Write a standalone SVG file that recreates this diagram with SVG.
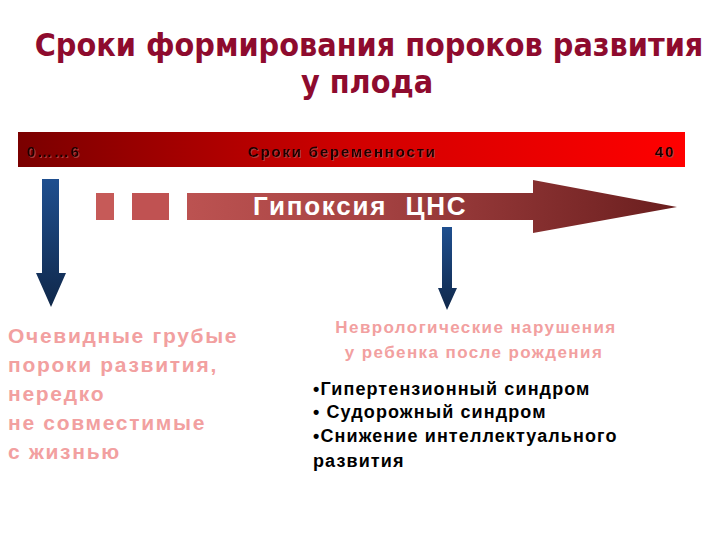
<svg xmlns="http://www.w3.org/2000/svg" width="720" height="540" viewBox="0 0 720 540">
<defs>
<linearGradient id="barG" x1="0" y1="0" x2="1" y2="0">
<stop offset="0" stop-color="#7A0000"/>
<stop offset="0.5" stop-color="#D00000"/>
<stop offset="1" stop-color="#FF0000"/>
</linearGradient>
<linearGradient id="hypG" x1="96" y1="0" x2="677" y2="0" gradientUnits="userSpaceOnUse">
<stop offset="0" stop-color="#C65A58"/>
<stop offset="0.45" stop-color="#A84444"/>
<stop offset="1" stop-color="#6A1E1E"/>
</linearGradient>
<linearGradient id="blueG" x1="0" y1="0" x2="0" y2="1">
<stop offset="0" stop-color="#1F4F8F"/>
<stop offset="1" stop-color="#10284A"/>
</linearGradient>
<filter id="sh" x="-5%" y="-20%" width="110%" height="140%">
<feDropShadow dx="1" dy="1" stdDeviation="0.4" flood-color="#B04040" flood-opacity="0.9"/>
</filter>
</defs>
<style>
.title{font-family:"DejaVu Sans Condensed","DejaVu Sans",sans-serif;font-weight:bold;font-size:32px;fill:#8E0B2E;text-anchor:middle}
.bar{font-family:"Liberation Sans",Arial,sans-serif;font-weight:bold;font-size:15px;letter-spacing:1.8px;fill:#1a0000;filter:url(#sh)}
.hyp{font-family:"Liberation Sans",Arial,sans-serif;font-weight:bold;font-size:26px;letter-spacing:1.8px;fill:#FFFFFF}
.pink{font-family:"Liberation Sans",Arial,sans-serif;font-weight:bold;fill:#F2A0A0}
.lp{font-size:21px;letter-spacing:1.7px}
.mp{font-size:17px;letter-spacing:1.4px}
.list{font-family:"Liberation Sans",Arial,sans-serif;font-weight:bold;font-size:18px;letter-spacing:1.1px;fill:#000000}
</style>
<rect width="720" height="540" fill="#FFFFFF"/>
<g id="title">
<text class="title" x="369" y="56">Сроки формирования пороков развития</text>
<text class="title" x="367" y="93">у плода</text>
</g>
<g id="timeline">
<rect x="18" y="132" width="667" height="35" fill="url(#barG)"/>
<text class="bar" x="27" y="157">0……6</text>
<text class="bar" x="248" y="157">Сроки беременности</text>
<text class="bar" x="655" y="157">40</text>
</g>
<g id="hypoxia">
<rect x="96" y="193" width="18" height="27" fill="#C65A58"/>
<rect x="132" y="193" width="37" height="27" fill="#C05252"/>
<polygon points="187,193 533,193 533,180 677,207 533,233 533,220 187,220" fill="url(#hypG)"/>
<text class="hyp" x="253" y="215" xml:space="preserve">Гипоксия  ЦНС</text>
</g>
<g id="connectors">
<polygon points="42,179 59,179 59,273 66,273 51,307 36,273 42,273" fill="url(#blueG)"/>
<polygon points="442,227 452,227 452,288 457,288 447,310 438,288 442,288" fill="url(#blueG)"/>
</g>
<g id="node-left">
<text class="pink lp" x="8" y="343">Очевидные грубые</text>
<text class="pink lp" x="8" y="372">пороки развития,</text>
<text class="pink lp" x="8" y="401">нередко</text>
<text class="pink lp" x="8" y="430">не совместимые</text>
<text class="pink lp" x="8" y="459">с жизнью</text>
</g>
<g id="node-right">
<text class="pink mp" x="476" y="333" text-anchor="middle">Неврологические нарушения</text>
<text class="pink mp" x="474" y="358" text-anchor="middle">у ребенка после рождения</text>
<text class="list" x="313" y="395">•Гипертензионный синдром</text>
<text class="list" x="313" y="418">• Судорожный синдром</text>
<text class="list" x="313" y="442">•Снижение интеллектуального</text>
<text class="list" x="313" y="467">развития</text>
</g>
</svg>
